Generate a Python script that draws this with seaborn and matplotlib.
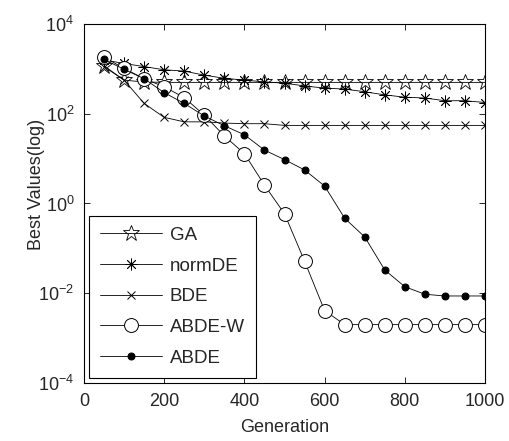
import matplotlib
matplotlib.use('Agg')
import matplotlib.pyplot as plt
import seaborn as sns
import pandas as pd
from matplotlib.ticker import NullLocator, FixedLocator

# generations sampled every 50
generation = [50, 100, 150, 200, 250, 300, 350, 400, 450, 500,
              550, 600, 650, 700, 750, 800, 850, 900, 950, 1000]

ga = [1170, 560, 510, 500, 500, 500, 500, 500, 500, 500,
      500, 500, 500, 500, 500, 500, 500, 500, 500, 500]
norm_de = [1585, 1318, 1122, 955, 891, 724, 617, 562, 513, 479,
           417, 372, 355, 309, 263, 234, 224, 195, 195, 178]
bde = [1122, 562, 170, 83, 66, 66, 62, 60, 60, 55,
       55, 55, 55, 55, 55, 55, 55, 55, 55, 55]
abde_w = [1820, 1023, 603, 398, 229, 93, 32, 12.9, 2.57, 0.59,
          0.052, 0.0041, 0.002, 0.002, 0.002, 0.002, 0.002, 0.002, 0.002, 0.002]
abde = [1622, 977, 603, 295, 170, 89, 54, 34, 15.5, 9.5,
        5.6, 2.45, 0.47, 0.18, 0.033, 0.014, 0.0095, 0.0087, 0.0087, 0.0087]

series_names = ["GA", "normDE", "BDE", "ABDE-W", "ABDE"]
series_values = [ga, norm_de, bde, abde_w, abde]

sns.set_style("ticks")
plt.rcParams['font.family'] = ['Liberation Sans', 'DejaVu Sans']
plt.rcParams['axes.unicode_minus'] = False
plt.rcParams['xtick.direction'] = 'in'
plt.rcParams['ytick.direction'] = 'in'

fig = plt.figure(figsize=(5.1, 4.41), dpi=100)
ax = fig.add_axes([0.1647, 0.1315, 0.7863, 0.8141])

styles = {
    "GA": dict(marker='*', markersize=12, markerfacecolor='none', markeredgewidth=0.6),
    "normDE": dict(marker=(8, 2, 0), markersize=8.5, markeredgewidth=0.6),
    "BDE": dict(marker='x', markersize=5.5, markeredgewidth=0.7),
    "ABDE-W": dict(marker='o', markersize=10, markerfacecolor='white', markeredgewidth=0.7),
    "ABDE": dict(marker='o', markersize=5, markerfacecolor='black'),
}

for name, vals in zip(series_names, series_values):
    df = pd.DataFrame({"Generation": generation, "value": vals})
    sns.lineplot(data=df, x="Generation", y="value", ax=ax, color='black',
                 linewidth=0.6, markeredgecolor='black', label=name,
                 **styles[name])

ax.set_yscale('log')
ax.set_ylim(1e-4, 1e4)
ax.set_xlim(0, 1000)
ax.yaxis.set_major_locator(FixedLocator([1e-4, 1e-2, 1e0, 1e2, 1e4]))
ax.yaxis.set_minor_locator(NullLocator())
ax.set_xticks([0, 200, 400, 600, 800, 1000])

ax.tick_params(which='both', top=True, right=True, length=4, width=0.7,
               labelsize=13, pad=7)
for sp in ax.spines.values():
    sp.set_linewidth(0.8)
    sp.set_color('black')

ax.set_xlabel("Generation", fontsize=13, labelpad=7)
ax.set_ylabel("Best Values(log)", fontsize=13)
ax.yaxis.set_label_coords(-0.098, 0.554)

leg = ax.legend(loc='lower left', fontsize=13.5, frameon=True, fancybox=False,
                framealpha=1, edgecolor='black', handlelength=3.3,
                handletextpad=0.4, labelspacing=0.72, borderaxespad=0.28,
                numpoints=1, borderpad=0.6)
leg.get_frame().set_linewidth(0.8)

plt.savefig("out.png", dpi=100)
